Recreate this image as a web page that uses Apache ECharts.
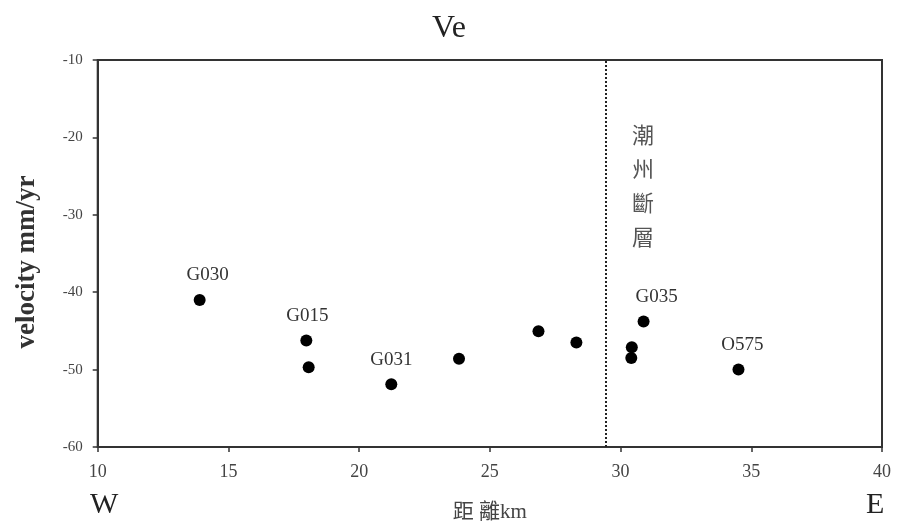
<!DOCTYPE html>
<html><head><meta charset="utf-8">
<script src="https://cdn.jsdelivr.net/npm/echarts@6/dist/echarts.min.js"></script>
<style>html,body{margin:0;padding:0;background:#fff}#c{width:898px;height:528px}</style>
</head><body><div id="c"></div>
<script>
const distanceKm = [13.9, 17.98, 18.07, 21.23, 23.82, 26.86, 28.31, 30.43, 30.41, 30.88, 34.51];
const velocityVe = [-41.0, -46.25, -49.7, -51.9, -48.6, -45.05, -46.5, -47.1, -48.5, -43.8, -50.0];
const stationNames = ['G030', 'G015', '', 'G031', '', '', '', '', '', 'G035', 'O575'];
const xTicks = [10, 15, 20, 25, 30, 35, 40];
const yTicks = [-60, -50, -40, -30, -20, -10];
const faultX = 29.44;
const faultLabel = '潮州斷層';
const faultLabelPos = [30.86, -26.2];

const serif = '"Liberation Serif","DejaVu Serif",serif';
const labelShift = { 'G030': [8, 0], 'G015': [1, 0], 'G035': [13, 0], 'O575': [4, 0] };

const points = distanceKm.map((x, i) => {
  const name = stationNames[i];
  const item = { value: [x, velocityVe[i]] };
  if (name) {
    item.label = {
      show: true, formatter: name, position: 'top', distance: 9,
      offset: labelShift[name] || [0, 0],
      fontFamily: serif, fontSize: 19, color: '#333'
    };
  }
  return item;
});

const chart = echarts.init(document.getElementById('c'), null, { renderer: 'canvas' });
chart.setOption({
  animation: false,
  title: {
    text: 'Ve', left: 'center', top: 8,
    textStyle: { fontFamily: serif, fontSize: 32, fontWeight: 'normal', color: '#222' }
  },
  grid: { left: 97.7, right: 16, top: 60, bottom: 79, show: true, borderColor: '#333', borderWidth: 2, backgroundColor: 'transparent' },
  xAxis: {
    type: 'value', min: xTicks[0], max: xTicks[xTicks.length - 1], interval: 5,
    name: '距 離km', nameLocation: 'middle', nameGap: 55,
    nameTextStyle: { fontFamily: serif + ', "Noto Sans CJK TC"', fontSize: 21, color: '#444' },
    axisLine: { show: true, lineStyle: { color: '#333', width: 2 } },
    axisTick: { show: true, length: 5, lineStyle: { color: '#333', width: 1.5 } },
    axisLabel: { fontFamily: serif, fontSize: 18, color: '#444', margin: 16 },
    splitLine: { show: false }
  },
  yAxis: {
    type: 'value', min: yTicks[0], max: yTicks[yTicks.length - 1], interval: 10,
    axisLine: { show: true, lineStyle: { color: '#333', width: 2 } },
    axisTick: { show: true, length: 5, lineStyle: { color: '#333', width: 1.5 } },
    axisLabel: { fontFamily: serif, fontSize: 15, color: '#444', margin: 15 },
    splitLine: { show: false }
  },
  graphic: [
    { type: 'text', x: 27, y: 262, rotation: Math.PI / 2,
      style: { text: 'velocity mm/yr', font: 'bold 27px ' + serif, fill: '#333', align: 'center', verticalAlign: 'middle' } },
    { type: 'text', left: 90, top: 490, style: { text: 'W', font: '30px ' + serif, fill: '#222' } },
    { type: 'text', left: 866, top: 490, style: { text: 'E', font: '30px ' + serif, fill: '#222' } }
  ],
  series: [{
    type: 'scatter',
    symbol: 'circle', symbolSize: 12,
    itemStyle: { color: '#000', opacity: 1 },
    data: points,
    markLine: {
      silent: true, symbol: 'none', label: { show: false },
      lineStyle: { type: 'dotted', color: '#222', width: 2 },
      data: [{ xAxis: faultX }]
    },
    markPoint: {
      silent: true, symbol: 'circle', symbolSize: 0,
      data: [{ coord: faultLabelPos, value: 0 }],
      label: {
        show: true, position: 'inside',
        formatter: faultLabel.split('').join('\n'),
        fontFamily: '"Noto Sans CJK TC", sans-serif', fontSize: 22, lineHeight: 34, color: '#555'
      }
    }
  }]
});
</script></body></html>
